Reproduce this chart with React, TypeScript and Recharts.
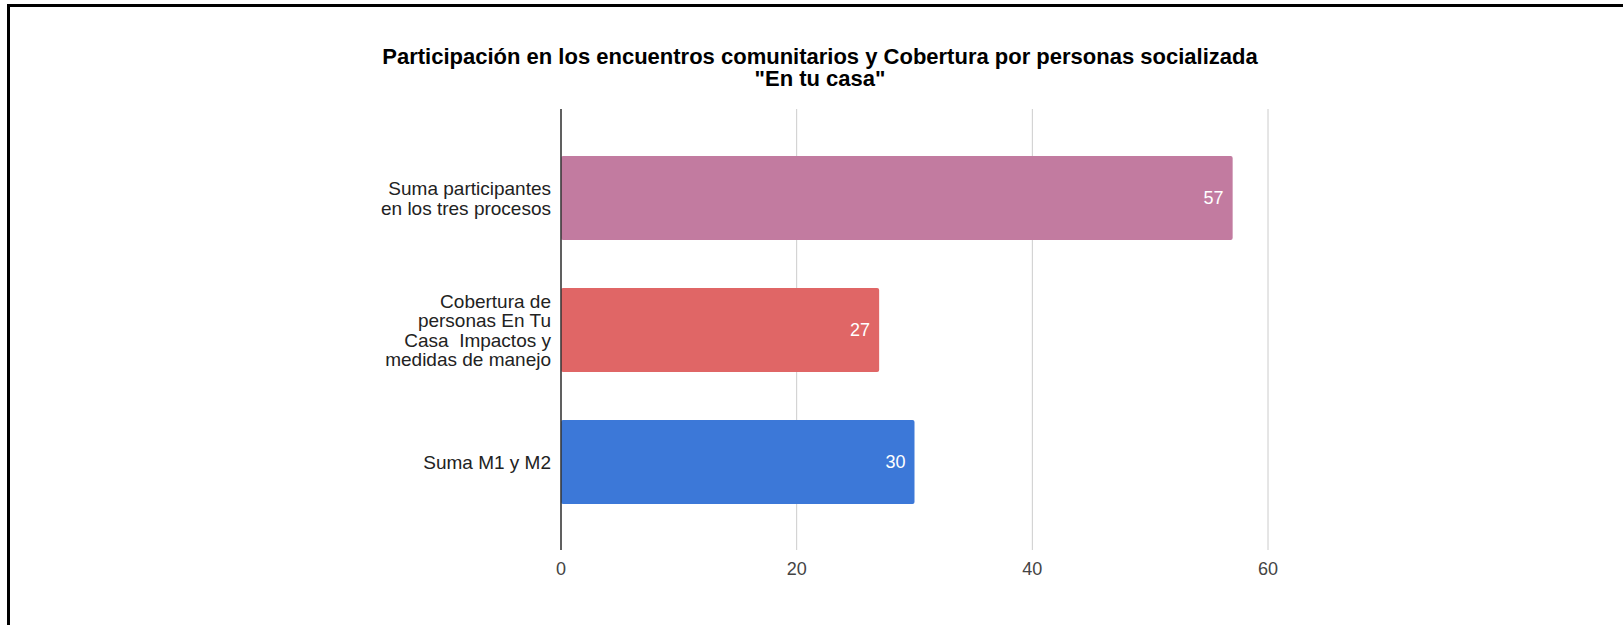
import { BarChart, Bar, XAxis, YAxis, CartesianGrid, Cell, LabelList } from 'recharts';

const categories = [
  'Suma participantes\nen los tres procesos',
  'Cobertura de\npersonas En Tu\nCasa  Impactos y\nmedidas de manejo',
  'Suma M1 y M2'
];
const values = [57, 27, 30];
const barColors = ['#c27ba0', '#e06666', '#3c78d8'];
const xTicks = [0, 20, 40, 60];
const titleLines = [
  'Participación en los encuentros comunitarios y Cobertura por personas socializada',
  '"En tu casa"'
];

const data = categories.map((name, i) => ({ name, value: values[i] }));

const FONT = "Arial, 'Liberation Sans', sans-serif";

const CategoryTick = (props: any) => {
  const { x, y, payload } = props;
  const lines = String(payload.value).split('\n');
  const lh = 19.6;
  return (
    <text x={x} y={y} textAnchor='end' fill='#222' fontSize={19} fontFamily={FONT}>
      {lines.map((line, i) => (
        <tspan key={i} x={x} y={y + (i - (lines.length - 1) / 2) * lh + 7} xmlSpace='preserve'>
          {line}
        </tspan>
      ))}
    </text>
  );
};

export default function App() {
  return (
    <div style={{ position: 'fixed', left: 0, top: 0, width: 1623, height: 625, background: '#fff', overflow: 'hidden' }}>
      <div
        style={{
          position: 'absolute',
          left: 7,
          top: 4,
          width: 1700,
          height: 700,
          border: '3px solid #000',
          boxSizing: 'border-box'
        }}
      />
      <div style={{ position: 'absolute', left: 0, top: 0 }}>
        <BarChart
          width={1623}
          height={625}
          data={data}
          layout='vertical'
          margin={{ top: 109, right: 355, bottom: 45, left: 0 }}
        >
          <CartesianGrid horizontal={false} stroke='#cccccc' />
          <XAxis
            type='number'
            domain={[0, 60]}
            ticks={xTicks}
            height={30}
            axisLine={false}
            tickLine={false}
            tickSize={0}
            tickMargin={12}
            tick={{ fill: '#444', fontSize: 18, fontFamily: FONT }}
          />
          <YAxis
            type='category'
            dataKey='name'
            width={561}
            axisLine={{ stroke: '#333', strokeWidth: 1.5 }}
            tickLine={false}
            tickSize={0}
            tickMargin={10}
            padding={{ top: 23, bottom: 22 }}
            tick={<CategoryTick />}
            interval={0}
          />
          <Bar dataKey='value' barSize={84} radius={2} isAnimationActive={false}>
            {data.map((d, i) => (
              <Cell key={d.name} fill={barColors[i]} />
            ))}
            <LabelList
              dataKey='value'
              position='insideRight'
              offset={9}
              fill='#fff'
              fontSize={18}
              fontFamily={FONT}
            />
          </Bar>
        </BarChart>
      </div>
      <svg width={1623} height={120} style={{ position: 'absolute', left: 0, top: 0 }}>
        {titleLines.map((t, i) => (
          <text
            key={i}
            x={820}
            y={64 + i * 21.5}
            textAnchor='middle'
            fontSize={22}
            fontWeight='bold'
            fill='#000'
            fontFamily={FONT}
          >
            {t}
          </text>
        ))}
      </svg>
    </div>
  );
}
